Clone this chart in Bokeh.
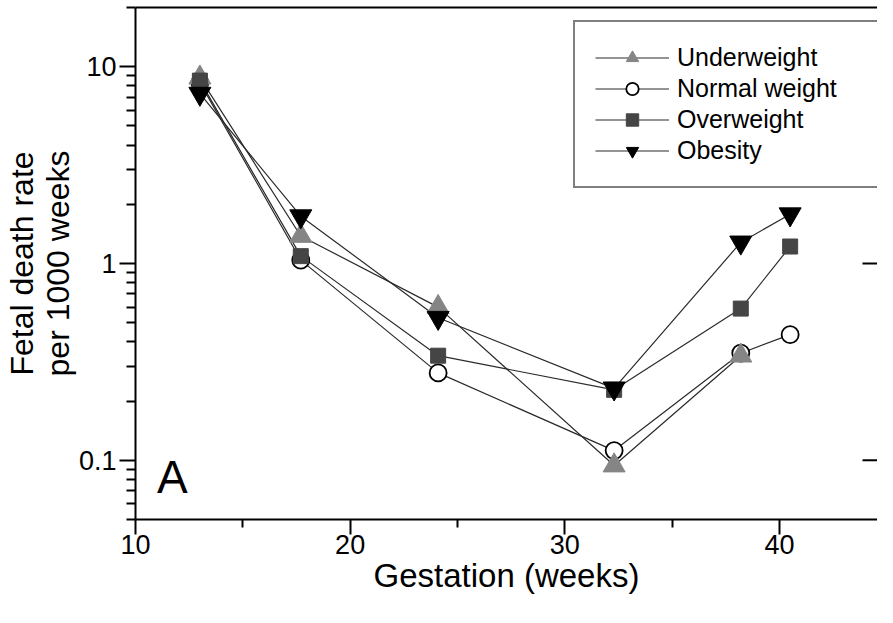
import math
from bokeh.plotting import figure
from bokeh.models import (Range1d, FixedTicker, LinearAxis, Legend, LegendItem, Label,
                          BasicTickFormatter)
from bokeh.embed import file_html
from bokeh.resources import INLINE

# ---- data ----
x_under = [13.0, 17.7, 24.1, 32.3, 38.2]
y_under = [8.8, 1.38, 0.60, 0.094, 0.34]

x_normal = [13.0, 17.7, 24.1, 32.3, 38.2, 40.5]
y_normal = [8.3, 1.04, 0.278, 0.112, 0.35, 0.435]

x_over = [13.0, 17.7, 24.1, 32.3, 38.2, 40.5]
y_over = [8.5, 1.09, 0.34, 0.228, 0.59, 1.22]

x_obese = [13.0, 17.7, 24.1, 32.3, 38.2, 40.5]
y_obese = [7.3, 1.74, 0.53, 0.232, 1.28, 1.78]

x_ticks = [10, 20, 30, 40]
x_minor = [15, 25, 35]
y_ticks = [0.1, 1, 10]
y_minor = [0.05, 0.06, 0.07, 0.08, 0.09,
           0.2, 0.3, 0.4, 0.5, 0.6, 0.7, 0.8, 0.9,
           2, 3, 4, 5, 6, 7, 8, 9, 20]

X_END = 44.57
Y_START, Y_END = 0.05, 20
FONT = "Liberation Sans"

p = figure(width=877, height=607, output_backend="svg", toolbar_location=None,
           y_axis_type="log", x_range=Range1d(10, X_END), y_range=Range1d(Y_START, Y_END),
           min_border_left=125, min_border_top=7, min_border_bottom=88, min_border_right=0,
           x_axis_label="Gestation (weeks)",
           y_axis_label="Fetal death rate\nper 1000 weeks")
p.background_fill_color = "white"
p.border_fill_color = "white"
p.outline_line_color = None
p.grid.visible = False

# bottom axis
xa = p.xaxis[0]
xa.ticker = FixedTicker(ticks=x_ticks, minor_ticks=x_minor)
xa.axis_line_width = 2
xa.axis_line_color = "black"
xa.major_tick_line_width = 2
xa.minor_tick_line_width = 2
xa.major_tick_out = 15
xa.major_tick_in = 0
xa.minor_tick_out = 8
xa.minor_tick_in = 0
xa.major_label_text_font = FONT
xa.major_label_text_font_size = "27px"
xa.major_label_text_color = "black"
xa.major_label_standoff = 0
xa.axis_label_text_font = FONT
xa.axis_label_text_font_size = "33px"
xa.axis_label_text_font_style = "normal"
xa.axis_label_text_color = "black"
xa.axis_label_standoff = 0

# left axis
ya = p.yaxis[0]
ya.ticker = FixedTicker(ticks=y_ticks, minor_ticks=y_minor)
ya.formatter = BasicTickFormatter()
ya.axis_line_width = 2
ya.axis_line_color = "black"
ya.major_tick_line_width = 2
ya.minor_tick_line_width = 2
ya.major_tick_out = 16
ya.major_tick_in = 0
ya.minor_tick_out = 9
ya.minor_tick_in = 0
ya.major_label_text_font = FONT
ya.major_label_text_font_size = "27px"
ya.major_label_text_color = "black"
ya.major_label_standoff = 3
ya.axis_label_text_font = FONT
ya.axis_label_text_font_size = "32px"
ya.axis_label_text_font_style = "normal"
ya.axis_label_text_color = "black"
ya.axis_label_text_line_height = 1.0
ya.axis_label_standoff = 0

# top frame line (an axis without ticks; its invisible tick length reserves the top gap)
top = LinearAxis(ticker=FixedTicker(ticks=[]), axis_line_width=2, axis_line_color="black",
                 major_tick_out=7, major_tick_in=0, minor_tick_out=0, minor_tick_in=0,
                 major_tick_line_color=None, minor_tick_line_color=None,
                 major_label_standoff=0)
p.add_layout(top, "above")

# inward ticks of the right axis (its line lies just outside the picture)
p.ray(x=[X_END] * len(y_ticks), y=y_ticks, length=15, length_units="screen",
      angle=math.pi, line_color="black", line_width=2)

LINE = "#2a2a2a"
r_nl = p.line(x_normal, y_normal, line_color=LINE, line_width=1.2)
r_ul = p.line(x_under, y_under, line_color=LINE, line_width=1.2)
r_ol = p.line(x_over, y_over, line_color=LINE, line_width=1.2)
r_bl = p.line(x_obese, y_obese, line_color=LINE, line_width=1.2)

r_nm = p.scatter(x_normal, y_normal, marker="circle", size=17, fill_color="white",
                 line_color="black", line_width=1.8)
r_um = p.scatter(x_under, y_under, marker="triangle", size=22, fill_color="#858585",
                 line_color="#858585")
r_om = p.scatter(x_over, y_over, marker="square", size=15, fill_color="#454545",
                 line_color="#454545")
r_bm = p.scatter(x_obese, y_obese, marker="inverted_triangle", size=22, fill_color="black",
                 line_color="black")

legend = Legend(items=[
    LegendItem(label="Underweight", renderers=[r_ul, r_um]),
    LegendItem(label="Normal weight", renderers=[r_nl, r_nm]),
    LegendItem(label="Overweight", renderers=[r_ol, r_om]),
    LegendItem(label="Obesity", renderers=[r_bl, r_bm]),
], location=(438, 331), padding=20, spacing=0, glyph_width=74, glyph_height=31,
    label_height=31, label_standoff=8, label_width=184, margin=0,
    label_text_font=FONT, label_text_font_size="25px", label_text_color="black",
    label_text_baseline="middle",
    border_line_color="black", border_line_width=2, background_fill_color="white",
    background_fill_alpha=1)
p.add_layout(legend, "center")

p.add_layout(Label(x=11.0, y=0.061, text="A", text_font=FONT, text_font_size="46px",
                   text_color="black", text_baseline="bottom"))

open("out.html", "w").write(file_html(p, INLINE))
